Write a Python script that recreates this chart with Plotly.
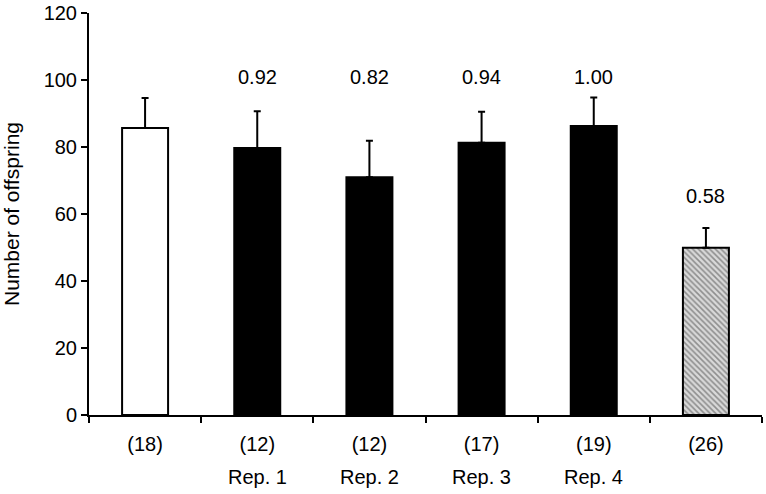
import plotly.graph_objects as go

categories = ["C", "R1", "R2", "R3", "R4", "X"]
n_labels = ["(18)", "(12)", "(12)", "(17)", "(19)", "(26)"]
rep_labels = ["", "Rep. 1", "Rep. 2", "Rep. 3", "Rep. 4", ""]
means = [85.7, 79.7, 71.0, 81.3, 86.3, 49.9]
sems = [8.9, 11.0, 10.9, 9.2, 8.5, 5.9]
ratios = ["", "0.92", "0.82", "0.94", "1.00", "0.58"]
ratio_y = [None, 101, 101, 101, 101, 65.4]

FONT = "Liberation Sans, Arial, sans-serif"
fills = ["white", "black", "black", "black", "black", "#d9d9d9"]
patterns = ["", "", "", "", "", "\\"]

fig = go.Figure()
fig.add_trace(go.Bar(
    x=categories, y=means, width=0.41,
    marker=dict(color=fills, line=dict(color="black", width=2),
                pattern=dict(shape=patterns, fgcolor="#444444", size=4, solidity=0.4)),
    error_y=dict(type="data", array=sems, arrayminus=[0]*len(sems), symmetric=False,
                 color="black", thickness=2, width=3.5),
    showlegend=False,
))

for c, t, yv in zip(categories, ratios, ratio_y):
    if t:
        fig.add_annotation(x=c, y=yv, text=t, showarrow=False,
                           font=dict(family=FONT, size=20, color="black"),
                           xanchor="center", yanchor="middle")

for c, t in zip(categories, rep_labels):
    if t:
        fig.add_annotation(x=c, y=-0.154, yref="paper", text=t, showarrow=False,
                           font=dict(family=FONT, size=20, color="black"),
                           xanchor="center", yanchor="middle")

fig.update_layout(
    width=766, height=494,
    margin=dict(l=89, r=4, t=13, b=79),
    paper_bgcolor="white", plot_bgcolor="white",
    font=dict(family=FONT, size=20, color="black"),
)
fig.update_xaxes(
    type="category", range=[-0.5, 5.5], automargin=False,
    tickmode="array", tickvals=categories, ticktext=n_labels,
    tickson="boundaries", ticks="outside", ticklen=6, tickwidth=2, tickcolor="black",
    ticklabelstandoff=10,
    showline=True, linecolor="black", linewidth=2, showgrid=False,
    tickfont=dict(family=FONT, size=20, color="black"),
)
fig.update_yaxes(
    range=[0, 120], tickvals=[0, 20, 40, 60, 80, 100, 120], automargin=False,
    ticks="outside", ticklen=6, tickwidth=2, tickcolor="black",
    showline=True, linecolor="black", linewidth=2, showgrid=False, zeroline=False,
    tickfont=dict(family=FONT, size=20, color="black"),
    title=dict(text="Number of offspring", font=dict(family=FONT, size=21, color="black"), standoff=18),
)

fig.write_html("out.html", config={"displayModeBar": False},
               post_script="document.body.style.margin='0';")
